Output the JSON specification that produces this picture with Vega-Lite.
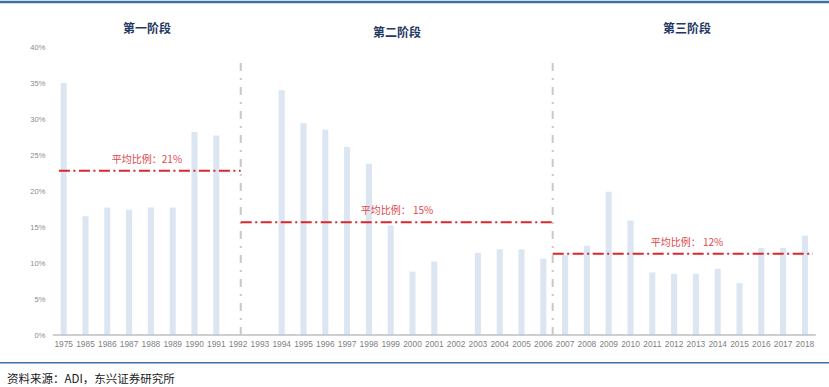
{
  "$schema": "https://vega.github.io/schema/vega-lite/v6.json",
  "width": 829,
  "height": 387,
  "autosize": "none",
  "padding": 0,
  "background": "white",
  "config": {"view": {"stroke": null}, "font": "Liberation Sans"},
  "title": {
    "text": "资料来源：ADI，东兴证券研究所",
    "orient": "bottom",
    "anchor": "start",
    "frame": "group",
    "offset": -13,
    "dx": 7,
    "fontSize": 11.5,
    "fontWeight": "normal",
    "color": "#1a1a1a",
    "font": "Noto Sans CJK SC"
  },
  "datasets": {
    "bars": [
      {"year": "1975", "value": 35.0},
      {"year": "1985", "value": 16.5},
      {"year": "1986", "value": 17.7},
      {"year": "1987", "value": 17.4},
      {"year": "1988", "value": 17.7},
      {"year": "1989", "value": 17.7},
      {"year": "1990", "value": 28.2},
      {"year": "1991", "value": 27.7},
      {"year": "1992", "value": null},
      {"year": "1993", "value": null},
      {"year": "1994", "value": 34.0},
      {"year": "1995", "value": 29.4},
      {"year": "1996", "value": 28.5},
      {"year": "1997", "value": 26.1},
      {"year": "1998", "value": 23.8},
      {"year": "1999", "value": 15.2},
      {"year": "2000", "value": 8.8},
      {"year": "2001", "value": 10.2},
      {"year": "2002", "value": null},
      {"year": "2003", "value": 11.4},
      {"year": "2004", "value": 11.9},
      {"year": "2005", "value": 11.9},
      {"year": "2006", "value": 10.6},
      {"year": "2007", "value": 11.1},
      {"year": "2008", "value": 12.4},
      {"year": "2009", "value": 19.9},
      {"year": "2010", "value": 15.9},
      {"year": "2011", "value": 8.7},
      {"year": "2012", "value": 8.5},
      {"year": "2013", "value": 8.5},
      {"year": "2014", "value": 9.2},
      {"year": "2015", "value": 7.2},
      {"year": "2016", "value": 12.1},
      {"year": "2017", "value": 12.1},
      {"year": "2018", "value": 13.8}
    ],
    "phases": [
      {"phase": 1, "title": "第一阶段", "label": "平均比例：21%", "avg": 22.8, "start": "1975", "end": "1992", "anchor": "1988"},
      {"phase": 2, "title": "第二阶段", "label": "平均比例： 15%", "avg": 15.65, "start": "1992", "end": "2006", "anchor": "1999"},
      {"phase": 3, "title": "第三阶段", "label": "平均比例： 12%", "avg": 11.3, "start": "2006", "end": "2018", "anchor": "2013"}
    ]
  },
  "layer": [
    {
      "data": {"name": "bars"},
      "mark": {"type": "bar", "color": "#DCE6F2", "width": {"band": 0.28}},
      "encoding": {
        "x": {
          "field": "year",
          "type": "ordinal",
          "title": null,
          "scale": {
            "type": "band",
            "domain": ["1975","1985","1986","1987","1988","1989","1990","1991","1992","1993","1994","1995","1996","1997","1998","1999","2000","2001","2002","2003","2004","2005","2006","2007","2008","2009","2010","2011","2012","2013","2014","2015","2016","2017","2018"],
            "range": [52.8, 815.8],
            "paddingInner": 0,
            "paddingOuter": 0
          },
          "axis": {
            "orient": "bottom",
            "offset": -52,
            "domain": false,
            "ticks": false,
            "grid": false,
            "labelAngle": 0,
            "labelPadding": 4,
            "labelFontSize": 8.4,
            "labelColor": "#7F7F7F",
            "labelFont": "Liberation Sans"
          }
        },
        "y": {
          "field": "value",
          "type": "quantitative",
          "title": null,
          "scale": {"domain": [-7.222, 46.528], "nice": false, "zero": false},
          "axis": {
            "orient": "left",
            "offset": -52.8,
            "values": [0, 5, 10, 15, 20, 25, 30, 35, 40],
            "labelExpr": "datum.value + '%'",
            "domain": false,
            "ticks": false,
            "grid": false,
            "labelPadding": 8,
            "labelFontSize": 7.5,
            "labelColor": "#8C8C8C",
            "labelFont": "Liberation Sans"
          }
        }
      }
    },
    {
      "data": {"values": [{}]},
      "mark": {"type": "rule", "color": "#BFBFBF", "strokeWidth": 1.5},
      "encoding": {
        "x": {"datum": "1975", "type": "ordinal", "bandPosition": 0},
        "x2": {"datum": "2018", "bandPosition": 1},
        "y": {"datum": 0, "type": "quantitative"}
      }
    },
    {
      "data": {"values": [{}]},
      "mark": {"type": "rule", "color": "#3F6FA6", "strokeWidth": 2.5},
      "encoding": {"y": {"datum": 46.25, "type": "quantitative"}}
    },
    {
      "data": {"values": [{}]},
      "mark": {"type": "rule", "color": "#3F6FA6", "strokeWidth": 1.5},
      "encoding": {"y": {"datum": -3.85, "type": "quantitative"}}
    },
    {
      "data": {"name": "phases"},
      "transform": [{"filter": "datum.phase == 1"}],
      "layer": [
        {
          "mark": {"type": "rule", "color": "#C8C8C8", "strokeWidth": 2, "strokeDash": [8, 7, 2, 7]},
          "encoding": {
            "x": {"field": "end", "type": "ordinal", "bandPosition": 0.62, "title": null},
            "y": {"datum": 0, "type": "quantitative"},
            "y2": {"datum": 38.2}
          }
        },
        {
          "mark": {"type": "rule", "color": "#D9272E", "strokeWidth": 2, "strokeDash": [11, 3.5, 2, 3.5]},
          "encoding": {
            "x": {"field": "start", "type": "ordinal", "bandPosition": 0.28, "title": null},
            "x2": {"field": "end", "bandPosition": 0.62},
            "y": {"field": "avg", "type": "quantitative", "title": null}
          }
        },
        {
          "mark": {"type": "text", "color": "#E0474C", "fontSize": 10, "dy": -11, "font": "Noto Sans CJK SC"},
          "encoding": {
            "x": {"field": "anchor", "type": "ordinal", "bandPosition": 0.32, "title": null},
            "y": {"field": "avg", "type": "quantitative", "title": null},
            "text": {"field": "label"}
          }
        },
        {
          "mark": {"type": "text", "color": "#1F3864", "fontSize": 12, "fontWeight": "bold", "font": "Noto Sans CJK SC"},
          "encoding": {
            "x": {"field": "anchor", "type": "ordinal", "bandPosition": 0.32, "title": null},
            "y": {"datum": 42.45, "type": "quantitative"},
            "text": {"field": "title"}
          }
        }
      ]
    },
    {
      "data": {"name": "phases"},
      "transform": [{"filter": "datum.phase == 2"}],
      "layer": [
        {
          "mark": {"type": "rule", "color": "#C8C8C8", "strokeWidth": 2, "strokeDash": [8, 7, 2, 7]},
          "encoding": {
            "x": {"field": "end", "type": "ordinal", "bandPosition": 0.93, "title": null},
            "y": {"datum": 0, "type": "quantitative"},
            "y2": {"datum": 38.2}
          }
        },
        {
          "mark": {"type": "rule", "color": "#D9272E", "strokeWidth": 2, "strokeDash": [11, 3.5, 2, 3.5]},
          "encoding": {
            "x": {"field": "start", "type": "ordinal", "bandPosition": 0.62, "title": null},
            "x2": {"field": "end", "bandPosition": 0.93},
            "y": {"field": "avg", "type": "quantitative", "title": null}
          }
        },
        {
          "mark": {"type": "text", "color": "#E0474C", "fontSize": 10, "dy": -11, "font": "Noto Sans CJK SC"},
          "encoding": {
            "x": {"field": "anchor", "type": "ordinal", "bandPosition": 0.79, "title": null},
            "y": {"field": "avg", "type": "quantitative", "title": null},
            "text": {"field": "label"}
          }
        },
        {
          "mark": {"type": "text", "color": "#1F3864", "fontSize": 12, "fontWeight": "bold", "font": "Noto Sans CJK SC"},
          "encoding": {
            "x": {"field": "anchor", "type": "ordinal", "bandPosition": 0.79, "title": null},
            "y": {"datum": 42.0, "type": "quantitative"},
            "text": {"field": "title"}
          }
        }
      ]
    },
    {
      "data": {"name": "phases"},
      "transform": [{"filter": "datum.phase == 3"}],
      "layer": [
        {
          "mark": {"type": "rule", "color": "#D9272E", "strokeWidth": 2, "strokeDash": [11, 3.5, 2, 3.5]},
          "encoding": {
            "x": {"field": "start", "type": "ordinal", "bandPosition": 0.93, "title": null},
            "x2": {"field": "end", "bandPosition": 0.87},
            "y": {"field": "avg", "type": "quantitative", "title": null}
          }
        },
        {
          "mark": {"type": "text", "color": "#E0474C", "fontSize": 10, "dy": -11, "font": "Noto Sans CJK SC"},
          "encoding": {
            "x": {"field": "anchor", "type": "ordinal", "bandPosition": 0.09, "title": null},
            "y": {"field": "avg", "type": "quantitative", "title": null},
            "text": {"field": "label"}
          }
        },
        {
          "mark": {"type": "text", "color": "#1F3864", "fontSize": 12, "fontWeight": "bold", "font": "Noto Sans CJK SC"},
          "encoding": {
            "x": {"field": "anchor", "type": "ordinal", "bandPosition": 0.09, "title": null},
            "y": {"datum": 42.45, "type": "quantitative"},
            "text": {"field": "title"}
          }
        }
      ]
    }
  ]
}
